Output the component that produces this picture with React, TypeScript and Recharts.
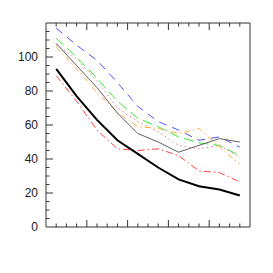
import React from "react";
import { LineChart, Line, XAxis, YAxis } from "recharts";

const xs = [1, 3, 5, 7, 9, 11, 13, 15, 17, 19];
const blackSeries = [93, 77, 63, 51, 43, 35, 28, 24, 22, 18.5];
const redSeries = [89, 74, 57, 46, 45, 46, 42, 33, 32, 26.5];
const blueSeries = [117, 107, 98, 85, 71, 62, 57, 51, 53, 47];
const greenSeries = [111, 100, 87.5, 74, 64, 59, 53, 49.5, 48, 42];
const graySeries = [108, 95, 82, 67, 55, 50, 44, 48, 52, 50];
const orangeSeries = [106, 93, 79, 67.5, 59, 58, 55, 58, 47, 37];
const pinkSeries = [107, 99, 86, 70, 62, 56, 48, 46, 48, 41];

const xTicks = Array.from({ length: 21 }, (_, i) => i);
const yTicks = Array.from({ length: 25 }, (_, i) => i * 5);

const data = xs.map((x, i) => ({
  x,
  black: blackSeries[i],
  red: redSeries[i],
  blue: blueSeries[i],
  green: greenSeries[i],
  gray: graySeries[i],
  orange: orangeSeries[i],
  pink: pinkSeries[i],
}));

const FRAME = "#333";

const BottomTick = (props: any) => {
  const { x, y, payload } = props;
  const v = payload.value;
  if (v === 0 || v === 20) return <g />;
  const len = v % 4 === 0 ? 7 : 3.5;
  return <line x1={x} y1={y} x2={x} y2={y - len} stroke={FRAME} strokeWidth={1} />;
};

const TopTick = (props: any) => {
  const { x, y, payload } = props;
  const v = payload.value;
  if (v === 0 || v === 20) return <g />;
  const len = v % 4 === 0 ? 7 : 3.5;
  return <line x1={x} y1={y} x2={x} y2={y + len} stroke={FRAME} strokeWidth={1} />;
};

const LeftTick = (props: any) => {
  const { x, y, payload } = props;
  const v = payload.value;
  const major = v % 20 === 0;
  return (
    <g>
      {v !== 0 && v !== 120 && (
        <line x1={x} y1={y} x2={x + (major ? 7 : 3.5)} y2={y} stroke={FRAME} strokeWidth={1} />
      )}
      {major && v !== 120 && (
        <text
          x={x - 8}
          y={y}
          dy="0.35em"
          textAnchor="end"
          fontFamily="'Liberation Sans', Arial, sans-serif"
          fontSize={12}
          fill="#222"
        >
          {v}
        </text>
      )}
    </g>
  );
};

const RightTick = (props: any) => {
  const { x, y, payload } = props;
  const v = payload.value;
  if (v === 0 || v === 120) return <g />;
  const len = v % 20 === 0 ? 8 : 4;
  return <line x1={x} y1={y} x2={x - len} y2={y} stroke={FRAME} strokeWidth={1} />;
};

export default function App() {
  return (
    <LineChart
      width={265}
      height={265}
      data={data}
      margin={{ top: 14, right: 22, bottom: 45, left: 0 }}
    >
      <XAxis
        dataKey="x"
        type="number"
        domain={[0, 20]}
        ticks={xTicks}
        interval={0}
        tick={BottomTick}
        tickLine={false}
        tickSize={0}
        tickMargin={0}
        height={1}
        axisLine={{ stroke: FRAME }}
      />
      <XAxis
        xAxisId="top"
        orientation="top"
        dataKey="x"
        type="number"
        domain={[0, 20]}
        ticks={xTicks}
        interval={0}
        tick={TopTick}
        tickLine={false}
        tickSize={0}
        tickMargin={0}
        height={1}
        axisLine={{ stroke: FRAME }}
      />
      <YAxis
        type="number"
        domain={[0, 120]}
        ticks={yTicks}
        interval={0}
        tick={LeftTick}
        tickLine={false}
        tickSize={0}
        tickMargin={0}
        width={38}
        axisLine={{ stroke: FRAME }}
      />
      <YAxis
        yAxisId="right"
        orientation="right"
        type="number"
        domain={[0, 120]}
        ticks={yTicks}
        interval={0}
        tick={RightTick}
        tickLine={false}
        tickSize={0}
        tickMargin={0}
        width={1}
        axisLine={{ stroke: FRAME }}
      />
      <Line dataKey="blue" stroke="#5050ff" strokeWidth={1} strokeDasharray="8 6" dot={false} isAnimationActive={false} />
      <Line dataKey="green" stroke="#33ee33" strokeWidth={1} strokeDasharray="10 5" dot={false} isAnimationActive={false} />
      <Line dataKey="pink" stroke="#d88080" strokeWidth={1} strokeDasharray="1.5 3" dot={false} isAnimationActive={false} />
      <Line dataKey="orange" stroke="#ffb040" strokeWidth={1} strokeDasharray="6 3 1.5 3" dot={false} isAnimationActive={false} />
      <Line dataKey="gray" stroke="#606060" strokeWidth={1} dot={false} isAnimationActive={false} />
      <Line dataKey="red" stroke="#ff4040" strokeWidth={1} strokeDasharray="7 3 1.5 3" dot={false} isAnimationActive={false} />
      <Line dataKey="black" stroke="#000" strokeWidth={2} dot={false} isAnimationActive={false} />
    </LineChart>
  );
}
